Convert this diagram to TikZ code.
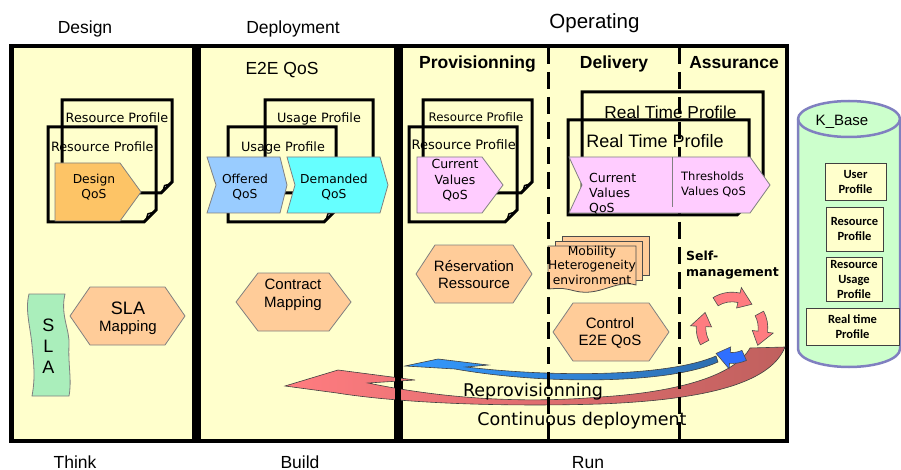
\documentclass[tikz,border=0pt]{standalone}
\usepackage{fontspec}
\setmainfont{Liberation Sans}
\newfontfamily\dvs{DejaVu Sans}
\newfontfamily\carl{Carlito}
\usetikzlibrary{calc}
\definecolor{panelfill}{HTML}{FFFFCC}
\definecolor{qosorange}{HTML}{FDC466}
\definecolor{offblue}{HTML}{99CCFF}
\definecolor{demcyan}{HTML}{66FFFF}
\definecolor{qospink}{HTML}{FFCCFF}
\definecolor{hexfill}{HTML}{FFCC99}
\definecolor{slagreen}{HTML}{AAEEBB}
\definecolor{kbfill}{HTML}{CCFFCC}
\definecolor{kbline}{HTML}{8080C0}
\definecolor{arrpink}{HTML}{FF7C80}
\definecolor{arrpinkdark}{HTML}{C0605E}
\definecolor{arrblue}{HTML}{3399FF}
\definecolor{arrbluedark}{HTML}{2E6FB0}
\definecolor{smblue}{HTML}{2F6FFF}
\definecolor{shapeline}{HTML}{808080}

\tikzset{
  panelbox/.style={draw=black, fill=panelfill, line width=3pt},
  docline/.style={draw=black, line width=3pt, line join=miter},
  curlst/.style={draw=black, fill=white, line width=1.4pt, line join=round},
  thinshape/.style={draw=shapeline, line width=0.8pt},
  title/.style={font=\fontsize{17.5}{20}\selectfont, inner sep=0pt, anchor=base},
  headbold/.style={font=\bfseries\fontsize{17.5}{20}\selectfont, inner sep=0pt, anchor=base},
  doctxt/.style={font=\dvs\fontsize{12.8}{14}\selectfont, inner sep=0pt, anchor=base},
  qostxt/.style={font=\dvs\fontsize{12.3}{14.5}\selectfont, inner sep=0pt, align=center},
  hextxt/.style={font=\fontsize{15}{17.5}\selectfont, inner sep=0pt, align=center},
  kbox/.style={draw=black!75, fill=panelfill, line width=0.8pt,
     font=\carl\bfseries\fontsize{12.5}{15}\selectfont, align=center, inner sep=0pt},
  dashline/.style={line width=3pt, dash pattern=on 17pt off 8pt},
  smarr/.style={fill=arrpink, draw=black!70, line width=0.6pt, line join=miter},
  smblu/.style={fill=smblue, draw=black!70, line width=0.6pt, line join=miter},
}

% document outline with curled corner: x1,y1,x2,y2,fold
\newcommand\docshape[5]{%
  \draw[docline] (#1,#2) -- (#3,#2) -- (#3,{#4-#5}) -- ({#3-#5},#4) -- (#1,#4) -- cycle;
  \draw[curlst] ({#3-0.25*#5},{#4-0.8*#5}) -- ({#3-0.8*#5},{#4-0.25*#5}) -- ({#3-0.68*#5},{#4-0.68*#5}) -- cycle;}
% hexagon: style,x1,y1,x2,y2,inset
\newcommand\hexa[6]{%
  \filldraw[#1] (#2,{(#3+#5)/2}) -- ({#2+#6},#3) -- ({#4-#6},#3) -- (#4,{(#3+#5)/2})
    -- ({#4-#6},#5) -- ({#2+#6},#5) -- cycle;}
% chevron: style,x1,y1,x2,y2,notch,tip
\newcommand\chev[7]{%
  \filldraw[#1] (#2,#3) -- ({#4-#7},#3) -- (#4,{(#3+#5)/2}) -- ({#4-#7},#5) -- (#2,#5)
    -- ({#2+#6},{(#3+#5)/2}) -- cycle;}
% curved block arrow: style, centre, r, a1, a2, head angle, half width, half head width
\newcommand\arcarr[8]{%
  \filldraw[#1] ($(#2)+(#4:{#3+#7})$) arc[start angle=#4, end angle={#5-#6}, radius={#3+#7}]
    -- ($(#2)+({#5-#6}:{#3+#8})$) -- ($(#2)+(#5:#3)$) -- ($(#2)+({#5-#6}:{#3-#8})$)
    -- ($(#2)+({#5-#6}:{#3-#7})$) arc[start angle={#5-#6}, end angle=#4, radius={#3-#7}] -- cycle;}

\begin{document}
\begin{tikzpicture}[x=1pt,y=-1pt]
\useasboundingbox (0,0) rectangle (901,470);
\fill[white] (0,0) rectangle (901,470);

% ---------- panels ----------
\node[panelbox, minimum width=181pt, minimum height=393pt] (pDesign) at (102.5,243.5) {};
\node[panelbox, minimum width=196pt, minimum height=393pt] (pDeploy) at (297,243.5) {};
\node[panelbox, minimum width=385pt, minimum height=393pt] (pOper) at (593.5,243.5) {};

% ---------- titles ----------
\node[title] (tDesign) at (85,33.3) {Design};
\node[title] (tDeploy) at (293,33.3) {Deployment};
\node[title, font=\fontsize{20.5}{24}\selectfont] (tOper) at (594.5,28.4) {Operating};
\node[title] (tThink) at (75,468) {Think};
\node[title] (tBuild) at (300,468) {Build};
\node[title] (tRun) at (588,468) {Run};
\node[title] (tE2E) at (282,74.8) {E2E QoS};
\node[headbold] (hProv) at (477.5,68.3) {Provisionning};
\node[headbold] (hDel) at (614,68.3) {Delivery};
\node[headbold] (hAss) at (734,68.3) {Assurance};

% ---------- K_Base cylinder ----------
\filldraw[fill=kbfill, draw=kbline, line width=2.5pt] (798,119) -- (798,349)
  arc[start angle=180, end angle=0, x radius=51, y radius=18] -- (900,119)
  arc[start angle=0, end angle=-180, x radius=51, y radius=18] -- cycle;
\draw[draw=kbline, line width=2.5pt] (798,119) arc[start angle=180, end angle=0, x radius=51, y radius=18];
\node[font=\fontsize{15}{18}\selectfont, inner sep=0pt, anchor=base] (kbT) at (842,125.7) {K\_Base};
\node[kbox, minimum width=61pt, minimum height=37pt] (kb1) at (855.5,181.5) {User\\Profile};
\node[kbox, minimum width=57pt, minimum height=44pt] (kb2) at (854.5,229) {Resource\\Profile};
\node[kbox, minimum width=56pt, minimum height=44pt] (kb3) at (854,279) {Resource\\Usage\\Profile};
\node[kbox, minimum width=93pt, minimum height=37pt] (kb4) at (852.5,326.5) {Real time\\Profile};

% ---------- documents ----------
\docshape{62}{100}{172}{193}{11}
\docshape{48}{127}{156}{222}{12}
\docshape{265}{100}{373}{193}{11}
\docshape{228}{127}{336}{222}{12}
\docshape{423}{100}{532}{193}{11}
\docshape{409}{127}{517}{222}{12}
\docshape{582}{92}{763}{192}{12}
\docshape{568}{120}{749}{215}{12}

\node[doctxt] (dDes1) at (117,122.3) {Resource Profile};
\node[doctxt] (dDes2) at (102.3,151.7) {Resource Profile};
\node[doctxt] (dDep1) at (319,122.3) {Usage Profile};
\node[doctxt] (dDep2) at (283,151.7) {Usage Profile};
\node[doctxt, font=\dvs\fontsize{11.8}{13}\selectfont] (dPro1) at (476,121.7) {Resource Profile};
\node[doctxt, font=\dvs\fontsize{13}{14}\selectfont] (dPro2) at (463.7,150) {Resource Profile};
\node[doctxt, font=\fontsize{17.3}{20}\selectfont] (dRT1) at (670.5,118.3) {Real Time Profile};
\node[doctxt, font=\fontsize{18}{21}\selectfont] (dRT2) at (655,147.3) {Real Time Profile};

% ---------- dashed dividers ----------
\draw[dashline] (548,47) -- (548,440);
\draw[dashline] (679,47) -- (679,440);

% ---------- QoS shapes ----------
\chev{thinshape, fill=qosorange}{55}{163}{141}{221}{0}{21}
\node[qostxt] (qDes) at (94,187.3) {Design\\QoS};
\chev{thinshape, fill=offblue}{207}{157}{287}{213}{9}{7}
\node[qostxt] (qOff) at (245,187.3) {Offered\\QoS};
\chev{thinshape, fill=demcyan}{287}{157}{388}{213}{8}{8}
\node[qostxt] (qDem) at (334,187.3) {Demanded\\QoS};
\chev{thinshape, fill=qospink}{417}{157}{503}{213}{0}{21}
\node[qostxt, font=\dvs\fontsize{12.5}{15.2}\selectfont] (qPro) at (455,180.3) {Current\\Values\\QoS};
\chev{thinshape, fill=qospink}{569}{157}{770}{213}{13}{20}
\draw[shapeline, line width=1pt] (672,157) -- (672,207);
\node[qostxt, font=\dvs\fontsize{12.5}{15}\selectfont, align=left, anchor=west] (qCur) at (589,193.8) {Current\\Values\\QoS};
\node[qostxt, font=\dvs\fontsize{11.5}{14.7}\selectfont, align=left, anchor=west] (qThr) at (681,184.7) {Thresholds\\Values QoS};

% ---------- hexagons ----------
\hexa{thinshape, fill=hexfill}{70}{287}{185}{345}{20}
\node[hextxt] (hSLA) at (128,318.5) {{\fontsize{18}{18}\selectfont SLA}\\Mapping};
\hexa{thinshape, fill=hexfill}{236}{273}{351}{331}{22}
\node[hextxt] (hCon) at (293,294.8) {Contract\\Mapping};
\hexa{thinshape, fill=hexfill}{416}{245}{532}{303}{19}
\node[hextxt] (hRes) at (474,274.8) {Réservation\\Ressource};
\hexa{thinshape, fill=hexfill}{553}{303}{669}{361}{20}
\node[hextxt] (hCtl) at (610,333.2) {Control\\E2E QoS};

% ---------- SLA banner ----------
\filldraw[thinshape, fill=slagreen] (29,294) -- (65,294) .. controls (60,315) and (70,330) .. (69,345)
  .. controls (68,365) and (72,380) .. (69,396) -- (32,396) .. controls (36,375) and (33,360) .. (32,345)
  .. controls (30,325) and (25,310) .. (29,294) -- cycle;
\node[font=\fontsize{18}{21}\selectfont, inner sep=0pt, align=center] (sla) at (48.3,346.2) {S\\L\\A};

% ---------- Mobility stack ----------
\filldraw[draw=black!70, line width=0.8pt, fill=hexfill] (562,236) rectangle (649,275);
\filldraw[draw=black!70, line width=0.8pt, fill=hexfill] (555,241) rectangle (642,280);
\filldraw[draw=black!70, line width=0.8pt, fill=hexfill] (548,246) -- (636,246) -- (636,285)
  .. controls (616,279) and (600,297) .. (575,291) .. controls (563,288) .. (548,289) -- cycle;
\node[qostxt] (mob) at (592,265) {Mobility\\Heterogeneity\\environment};

\node[font=\dvs\bfseries\fontsize{12.5}{16}\selectfont, inner sep=0pt, align=left, anchor=west] (self) at (686,265.5) {Self-\\management};

% ---------- big arrows ----------
\shadedraw[left color=arrpink, middle color=arrpink, right color=arrpinkdark, draw=black!75, line width=0.6pt]
  (285,386) -- (338,370) -- (415,380) -- (368,383)
  .. controls (450,400) and (530,403) .. (600,397)
  .. controls (680,392) and (735,375) .. (750,348)
  -- (785,347)
  .. controls (770,385) and (700,400) .. (600,404)
  .. controls (500,407) and (400,403) .. (337,393) -- cycle;
\shadedraw[left color=arrblue, middle color=arrblue, right color=arrbluedark, draw=black!75, line width=0.6pt]
  (405,366) -- (438,359) -- (488,365) -- (466,367)
  .. controls (560,378) and (670,376) .. (716,356)
  -- (718,362)
  .. controls (670,384) and (545,385) .. (455,369) -- cycle;

% ---------- self-management cycle ----------
\coordinate (smc) at (732,328);
\arcarr{smarr}{smc}{31}{-122}{-50}{27}{4.8}{10.5}
\arcarr{smarr}{smc}{31}{-28}{34}{27}{4.8}{10.5}
\arcarr{smarr}{smc}{31}{152}{210}{27}{4.8}{10.5}
\arcarr{smblu}{smc}{30}{66}{122}{28}{5.5}{11}

\node[font=\dvs\fontsize{17.5}{20}\selectfont, inner sep=0pt, anchor=base] (repro) at (533,396.7) {Reprovisionning};
\node[font=\dvs\fontsize{17.5}{20}\selectfont, inner sep=0pt, anchor=base] (cont) at (582,425) {Continuous deployment};

% ---------- dashed lines over the lower part, and panel borders on top ----------
\draw[dashline] (548,222) -- (548,440);
\draw[dashline] (679,222) -- (679,440);
\draw[line width=3pt] (pDesign.south west) rectangle (pDesign.north east);
\draw[line width=3pt] (pDeploy.south west) rectangle (pDeploy.north east);
\draw[line width=3pt] (pOper.south west) rectangle (pOper.north east);
\end{tikzpicture}
\end{document}
